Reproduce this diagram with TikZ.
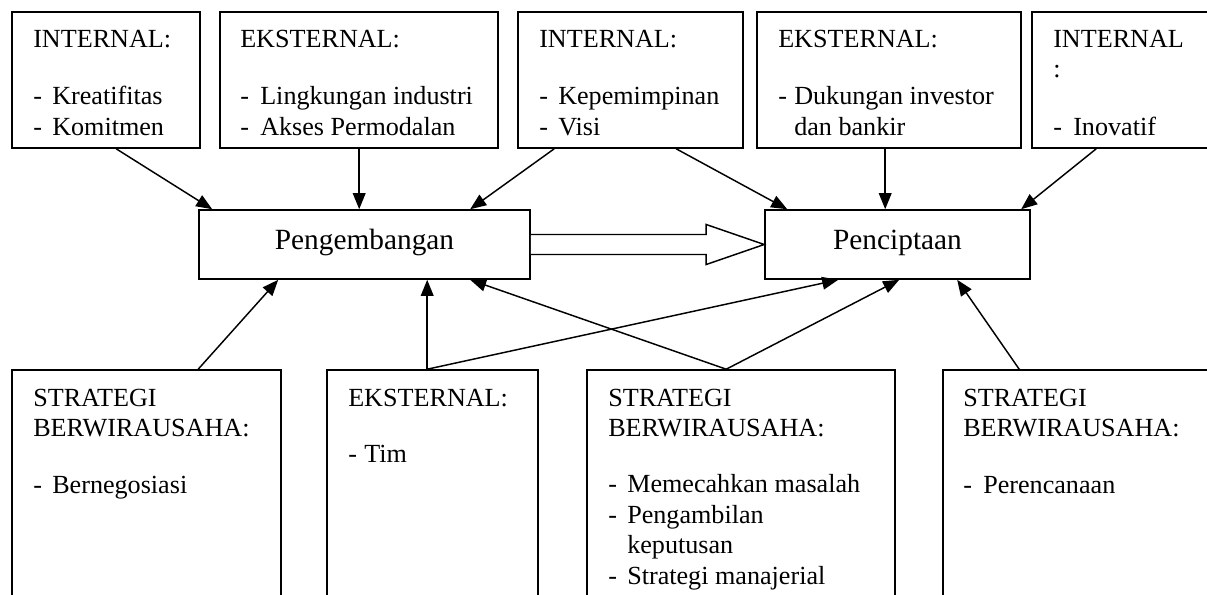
\documentclass[tikz,border=0pt]{standalone}
\usepackage{fontspec}
\setmainfont{Liberation Serif}
\usetikzlibrary{arrows.meta,fit,calc}
\begin{document}
\begin{tikzpicture}[x=0.75pt,y=-0.75pt,
  box/.style={draw, line width=1.2pt, rectangle, inner sep=0pt, fill=white},
  txt/.style={anchor=base west, inner sep=0pt, font=\fontsize{19.6}{23}\selectfont},
  big/.style={anchor=base, inner sep=0pt, font=\fontsize{22}{26}\selectfont},
  arr/.style={-{Triangle[length=12pt,width=9.5pt]}, line width=1.1pt},
  hollow/.style={line width=1.1pt, fill=white, line join=miter}]
\useasboundingbox (0,0) rectangle (1207,594);
\clip (0,0) rectangle (1207,594);
% top boxes
\node[box, fit={(12,12) (200,148)}] (t1) {};
\node[box, fit={(220,12) (498,148)}] (t2) {};
\node[box, fit={(518,12) (743,148)}] (t3) {};
\node[box, fit={(757,12) (1021,148)}] (t4) {};
\node[box, fit={(1032,12) (1240,148)}] (t5) {};
% middle boxes
\node[box, fit={(199,210) (530,279)}] (P) {};
\node[box, fit={(765,210) (1030,279)}] (C) {};
% bottom boxes
\node[box, fit={(12,370) (281,640)}] (b1) {};
\node[box, fit={(327,370) (538,640)}] (b2) {};
\node[box, fit={(587,370) (895,640)}] (b3) {};
\node[box, fit={(943,370) (1240,640)}] (b4) {};
% middle labels
\node[big] (Plab) at ($(P.center)+(0,4.5)$) {Pengembangan};
\node[big] (Clab) at ($(C.center)+(0,4.5)$) {Penciptaan};
% top box texts
\node[txt] (t1h) at (33,47) {INTERNAL:};
\node[txt] (t1d1) at (33,104) {-};
\node[txt] (t1i1) at (52,104) {Kreatifitas};
\node[txt] (t1d2) at (33,135) {-};
\node[txt] (t1i2) at (52,135) {Komitmen};
\node[txt] (t2h) at (240,47) {EKSTERNAL:};
\node[txt] (t2d1) at (240,104) {-};
\node[txt] (t2i1) at (260,104) {Lingkungan industri};
\node[txt] (t2d2) at (240,135) {-};
\node[txt] (t2i2) at (260,135) {Akses Permodalan};
\node[txt] (t3h) at (539,47) {INTERNAL:};
\node[txt] (t3d1) at (539,104) {-};
\node[txt] (t3i1) at (558,104) {Kepemimpinan};
\node[txt] (t3d2) at (539,135) {-};
\node[txt] (t3i2) at (558,135) {Visi};
\node[txt] (t4h) at (778,47) {EKSTERNAL:};
\node[txt] (t4d1) at (778,104) {-};
\node[txt] (t4i1) at (794,104) {Dukungan investor};
\node[txt] (t4i2) at (794,135) {dan bankir};
\node[txt] (t5h) at (1053,47) {INTERNAL};
\node[txt] (t5c) at (1053,77) {:};
\node[txt] (t5d1) at (1053,135) {-};
\node[txt] (t5i1) at (1073,135) {Inovatif};
% bottom box texts
\node[txt] (b1h1) at (33,406) {STRATEGI};
\node[txt] (b1h2) at (33,436) {BERWIRAUSAHA:};
\node[txt] (b1d1) at (33,493) {-};
\node[txt] (b1i1) at (52,493) {Bernegosiasi};
\node[txt] (b2h) at (348,406) {EKSTERNAL:};
\node[txt] (b2d1) at (348,462) {-};
\node[txt] (b2i1) at (364,462) {Tim};
\node[txt] (b3h1) at (608,406) {STRATEGI};
\node[txt] (b3h2) at (608,436) {BERWIRAUSAHA:};
\node[txt] (b3d1) at (608,492) {-};
\node[txt] (b3i1) at (627,492) {Memecahkan masalah};
\node[txt] (b3d2) at (608,523) {-};
\node[txt] (b3i2) at (627,523) {Pengambilan};
\node[txt] (b3i3) at (627,553) {keputusan};
\node[txt] (b3d4) at (608,584) {-};
\node[txt] (b3i4) at (627,584) {Strategi manajerial};
\node[txt] (b4h1) at (963,406) {STRATEGI};
\node[txt] (b4h2) at (963,436) {BERWIRAUSAHA:};
\node[txt] (b4d1) at (963,493) {-};
\node[txt] (b4i1) at (983,493) {Perencanaan};
% arrows from top
\draw[arr] ($(t1.south west)+(105,0)$) -- ($(P.north west)+(14,0)$);
\draw[arr] ($(t2.south west)+(140,0)$) -- ($(P.north west)+(161,0)$);
\draw[arr] ($(t3.south west)+(37,0)$) -- ($(P.north west)+(272,0)$);
\draw[arr] ($(t3.south west)+(159,0)$) -- ($(C.north west)+(23,0)$);
\draw[arr] ($(t4.south west)+(129,0)$) -- ($(C.north west)+(121,0)$);
\draw[arr] ($(t5.south west)+(65,0)$) -- ($(C.north west)+(257,0)$);
% arrows from bottom
\draw[arr] ($(b1.north west)+(187,0)$) -- ($(P.south west)+(80,0)$);
\draw[arr] ($(b2.north west)+(101,0)$) -- ($(P.south west)+(229,0)$);
\draw[arr] ($(b2.north west)+(101,0)$) -- ($(C.south west)+(74,0)$);
\draw[arr] ($(b3.north west)+(140,0)$) -- ($(P.south west)+(272,0)$);
\draw[arr] ($(b3.north west)+(140,0)$) -- ($(C.south west)+(135,0)$);
\draw[arr] ($(b4.north west)+(77,0)$) -- ($(C.south west)+(193,0)$);
% hollow block arrow
\draw[hollow] ($(P.east)+(0,-10)$) -- ($(C.west)+(-58,-10)$) -- ($(C.west)+(-58,-20)$)
  -- (C.west) -- ($(C.west)+(-58,20)$) -- ($(C.west)+(-58,10)$) -- ($(P.east)+(0,10)$);
\end{tikzpicture}
\end{document}
